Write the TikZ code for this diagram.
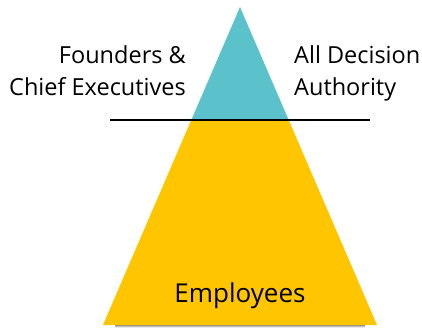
\documentclass[tikz,border=0pt]{standalone}
\usepackage{fontspec}
\setmainfont{Open Sans}
\definecolor{teal1}{HTML}{5BC2CC}
\definecolor{gold1}{HTML}{FFC600}
\begin{document}
\begin{tikzpicture}[x=1pt,y=-1pt,
  lbl/.style={inner sep=0pt, font=\fontsize{23.5}{32}\selectfont, text=black}]
\useasboundingbox (0,0) rectangle (422,327);
% shadow under base
\shade[top color=black!60, bottom color=white] (115,324) rectangle (365,327.5);
\coordinate (apex) at (240,7);
\coordinate (bl) at (103,325);
\coordinate (br) at (377,325);
\coordinate (ml) at (191.3,120);
\coordinate (mr) at (288.7,120);
\fill[gold1] (ml) -- (mr) -- (br) -- (bl) -- cycle;
\fill[teal1] (apex) -- (mr) -- (ml) -- cycle;
\coordinate (la) at (110,120);
\coordinate (lb) at (370,120);
\draw[line width=1.5pt] (la) -- (lb);
\node[lbl, align=right, anchor=base east] (f) at (186,95) {Founders \&\\Chief Executives};
\node[lbl, align=left, anchor=base west] (a) at (294,95) {All Decision\\Authority};
\node[lbl, font=\fontsize{26}{32}\selectfont, anchor=base] (e) at (240,302) {Employees};
\end{tikzpicture}
\end{document}
